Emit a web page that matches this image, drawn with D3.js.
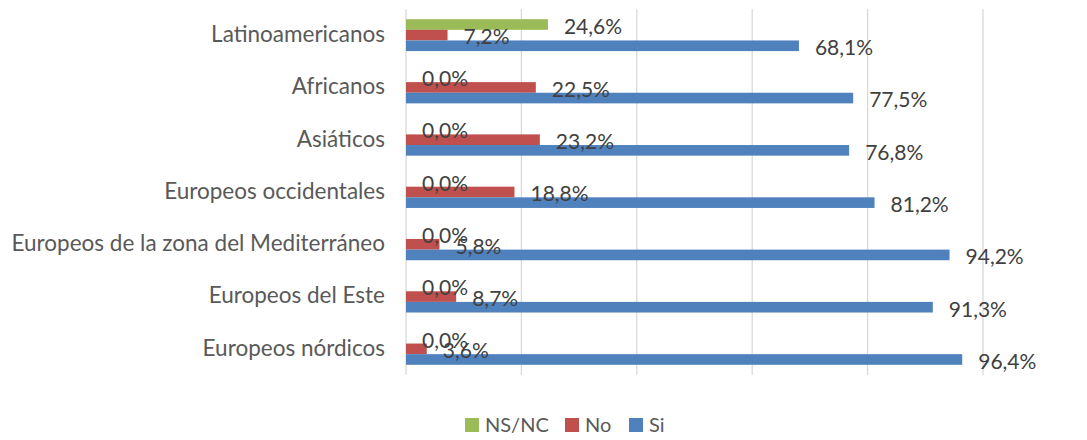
<!DOCTYPE html>
<html>
<head>
<meta charset="utf-8">
<style>
  body { margin: 0; background: #fff; }
  text { font-family: Lato, "Open Sans", sans-serif; }
</style>
</head>
<body>
<script src="https://d3js.org/d3.v7.min.js"></script>
<script>
const CATEGORIES = [
  "Latinoamericanos",
  "Africanos",
  "Asiáticos",
  "Europeos occidentales",
  "Europeos de la zona del Mediterráneo",
  "Europeos del Este",
  "Europeos nórdicos"
];
const SERIES = ["NS/NC", "No", "Si"];
const NSNC = [24.6, 0, 0, 0, 0, 0, 0];
const NO = [7.2, 22.5, 23.2, 18.8, 5.8, 8.7, 3.6];
const SI = [68.1, 77.5, 76.8, 81.2, 94.2, 91.3, 96.4];
const X_TICKS = [0, 20, 40, 60, 80, 100];

const COLORS = { "NS/NC": "#9BBB59", "No": "#C0504D", "Si": "#4F81BD" };
const VALUES = { "NS/NC": NSNC, "No": NO, "Si": SI };

const WIDTH = 1087, HEIGHT = 440;
const LEFT = 406, RIGHT = 983, TOP = 9, BOTTOM = 375;

const svg = d3.select('body').append('svg')
  .attr('width', WIDTH).attr('height', HEIGHT);

const x = d3.scaleLinear().domain([0, 100]).range([LEFT, RIGHT]);
const y = d3.scaleBand().domain(CATEGORIES).range([TOP, BOTTOM])
  .paddingInner(0.39).paddingOuter(0.195);
const ySub = d3.scaleBand().domain(SERIES).range([0, y.bandwidth()]);

// lineas de cuadricula
svg.append('g').selectAll('line')
  .data(X_TICKS)
  .join('line')
  .attr('x1', d => x(d)).attr('x2', d => x(d))
  .attr('y1', TOP).attr('y2', BOTTOM)
  .attr('stroke', '#D9D9D9').attr('stroke-width', 1.3);

// etiquetas de categoria
svg.append('g').selectAll('text')
  .data(CATEGORIES)
  .join('text')
  .attr('x', LEFT - 21)
  .attr('y', d => y(d) + y.bandwidth() / 2 - 1)
  .attr('dy', '0.35em')
  .attr('text-anchor', 'end')
  .attr('font-size', 22.5)
  .attr('fill', '#595959')
  .text(d => d);

const rows = [];
SERIES.forEach(s => CATEGORIES.forEach((c, i) => rows.push({ s, c, v: VALUES[s][i] })));

// barras
svg.append('g').selectAll('rect')
  .data(rows)
  .join('rect')
  .attr('x', x(0))
  .attr('y', d => y(d.c) + ySub(d.s))
  .attr('width', d => x(d.v) - x(0))
  .attr('height', ySub.bandwidth())
  .attr('fill', d => COLORS[d.s]);

// etiquetas de datos
const fmt = v => v.toFixed(1).replace('.', ',') + '%';
svg.append('g').selectAll('text')
  .data(rows)
  .join('text')
  .attr('x', d => x(d.v) + 16)
  .attr('y', d => y(d.c) + ySub(d.s) + ySub.bandwidth() / 2 + 2)
  .attr('dy', '0.35em')
  .attr('font-size', 21)
  .attr('fill', '#404040')
  .text(d => fmt(d.v));

// leyenda
const legend = svg.append('g').attr('transform', 'translate(465, 418)');
const LEG_X = [0, 100, 164];
SERIES.forEach((s, i) => {
  const g = legend.append('g').attr('transform', `translate(${LEG_X[i]}, 0)`);
  g.append('rect').attr('width', 14).attr('height', 14).attr('fill', COLORS[s]);
  g.append('text').attr('x', 20).attr('y', 7).attr('dy', '0.35em')
    .attr('font-size', 20).attr('fill', '#595959').text(s);
});
</script>
</body>
</html>
